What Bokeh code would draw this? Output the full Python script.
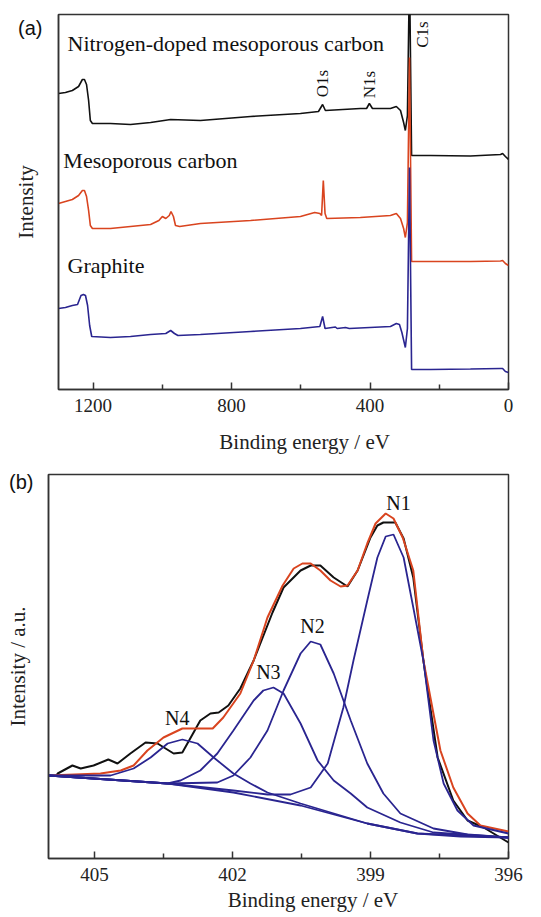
from bokeh.plotting import figure
from bokeh.models import Range1d, FixedTicker, LinearAxis
from bokeh.embed import file_html
from bokeh.resources import INLINE
from bokeh.core.properties import value

# ---------------- Panel (a): XPS survey spectra ----------------
survey_black_e = [1300, 1280, 1260, 1242, 1231, 1225, 1219, 1213, 1208, 1202, 1150, 1092, 1034, 976, 890, 745, 601,
                  549, 537, 529, 428, 410, 402, 393, 341, 324, 312, 303, 298, 292, 286, 280, 225, 110, 23, 17, 9, 0]
survey_black_y = [296, 297, 299, 303, 310, 310, 305, 289, 269, 266, 266, 265, 267, 270, 269, 273, 276,
                  278, 285, 279, 281, 281, 286, 281, 281, 283, 279, 267, 259, 274, 420, 234, 234, 233.5, 235, 236, 233, 230]

survey_red_e = [1300, 1280, 1260, 1242, 1231, 1225, 1219, 1213, 1208, 1202, 1150, 1092, 1034, 1010, 1000, 990, 980,
                975, 968, 962, 950, 890, 745, 601, 560, 545, 540, 535, 530, 525, 428, 341, 324, 312, 303, 298, 292,
                286, 280, 225, 110, 23, 17, 9, 0]
survey_red_y = [186, 188, 190, 194, 199, 199, 193, 179, 164, 161, 161, 163, 165, 169, 173, 171, 174,
                178, 173, 164, 163, 166, 169, 173, 177, 176, 174, 209, 176, 171, 172, 174, 176, 171, 161, 152, 167,
                332, 128, 128, 128, 128.5, 129, 126, 124]

survey_blue_e = [1300, 1280, 1260, 1245, 1235, 1228, 1222, 1216, 1210, 1204, 1150, 1092, 1034, 990, 976, 965, 955,
                 890, 745, 601, 545, 537, 530, 500, 495, 471, 460, 341, 324, 315, 308, 298, 292, 286, 280, 225, 110,
                 23, 17, 9, 0]
survey_blue_y = [81, 82, 84, 85, 94, 95, 94, 84, 64, 53, 52, 53, 55, 56, 59, 56, 54,
                 55, 58, 61, 63, 73, 61, 62.5, 61, 62, 61, 63, 66, 65, 57, 42, 61, 222, 20, 20, 20.5,
                 21, 21, 18, 17]

survey_ticks = [1200, 800, 400, 0]
survey_minor = [1000, 600, 200]
sample_names = ["Nitrogen-doped mesoporous carbon", "Mesoporous carbon", "Graphite"]
sample_x = [1274, 1286, 1274]
sample_y = [346, 229, 124]
peak_names = ["O1s", "N1s", "C1s"]
peak_x = [537, 401, 248]
peak_y = [306, 305, 355]
panel_a_tag_y = 362
panel_a_xlabel_at = 589

# ---------------- Panel (b): N1s high resolution ----------------
n_exp_e = [405.85, 405.80, 405.48, 405.30, 405.02, 404.70, 404.50, 404.22, 403.89, 403.63, 403.28, 403.09,
           402.70, 402.48, 402.30, 402.09, 401.83, 401.54, 401.13, 400.89, 400.52, 400.30, 400.09, 399.80,
           399.50, 399.28, 399.00, 398.85, 398.72, 398.46, 398.28, 398.07, 397.85, 397.54, 397.20, 396.89,
           396.54, 396.00]
n_exp_y = [82, 85, 93, 90, 93, 99, 95, 105, 116, 115, 105, 106,
           138, 145, 146, 153, 170, 198, 246, 271, 288, 293, 293, 281,
           272, 288, 321, 333, 336, 336, 320, 281, 198, 101, 58, 38,
           31, 16]

n_fit_e = [406.00, 404.87, 404.43, 404.15, 403.85, 403.50, 403.09, 402.76, 402.43, 402.20, 401.83, 401.54,
           401.24, 400.91, 400.67, 400.48, 400.30, 400.09, 399.87, 399.65, 399.50, 399.28, 399.07, 398.89,
           398.67, 398.50, 398.30, 398.07, 397.85, 397.48, 397.20, 396.89, 396.61, 396.00]
n_fit_y = [83, 85, 88, 93, 108, 121, 130, 130, 130, 141, 165, 198,
           241, 273, 290, 295, 295, 288, 278, 272, 273, 288, 315, 335,
           345, 340, 321, 288, 198, 108, 71, 45, 33, 27]

bg_e = [406.00, 403.41, 401.98, 400.52, 399.07, 397.98, 397.04, 396.00]
bg_y = [83, 75, 66, 53, 35, 25, 22, 21]

n1_e = [406.00, 403.41, 401.98, 401.24, 400.74, 400.30, 399.93, 399.59, 399.37, 399.07, 398.85, 398.67,
        398.50, 398.28, 398.07, 397.85, 397.63, 397.41, 397.11, 396.76, 396.00]
n1_y = [83, 75, 68, 64, 64, 71, 95, 151, 198, 258, 301, 322,
        324, 301, 251, 198, 118, 75, 48, 33, 25]

n2_e = [406.00, 403.41, 402.33, 401.98, 401.61, 401.24, 400.89, 400.52, 400.30, 400.09, 399.80, 399.43,
        399.07, 398.72, 398.35, 397.63, 396.89, 396.00]
n2_y = [83, 75, 76, 83, 101, 128, 168, 205, 217, 214, 185, 138,
        95, 65, 45, 30, 24, 21]

n3_e = [406.00, 403.41, 403.13, 402.70, 402.33, 401.98, 401.54, 401.33, 401.11, 400.89, 400.52, 400.15,
        399.80, 399.43, 399.07, 398.35, 397.63, 396.00]
n3_y = [83, 75, 78, 88, 105, 128, 158, 168, 171, 165, 135, 98,
        78, 65, 51, 36, 26, 21]

n4_e = [406.00, 404.65, 404.15, 403.78, 403.41, 403.09, 402.76, 402.41, 401.98, 401.61, 401.24, 400.52,
        399.07, 397.98, 396.00]
n4_y = [83, 83, 90, 101, 115, 119, 115, 101, 85, 75, 66, 55,
        35, 25, 21]

n_ticks = [405, 402, 399, 396]
n_minor = [403.5, 400.5, 397.5]
comp_names = ["N1", "N2", "N3", "N4"]
comp_x = [398.39, 400.26, 401.22, 403.20]
comp_y = [356, 233, 187, 141]
panel_b_tag_y = 377
panel_b_xlabel_at = 400.25

XLABEL = "Binding energy / eV"
BLACK = "#111111"
RED = "#d9441f"
BLUE = "#2a2590"
SERIF = "Liberation Serif"
SANS = "Liberation Sans"


def style(p, ticks, minor, ylabel, tag, tag_y, tag_standoff, ylabel_standoff, xlabel_at, xlabel_standoff):
    ax = p.xaxis[0]
    ax.ticker = FixedTicker(ticks=ticks, minor_ticks=minor)
    ax.major_tick_in = 7
    ax.major_tick_out = 0
    ax.minor_tick_in = 5
    ax.minor_tick_out = 0
    ax.major_tick_line_color = "#333333"
    ax.minor_tick_line_color = "#333333"
    ax.major_tick_line_width = 1.5
    ax.minor_tick_line_width = 1.5
    ax.axis_line_color = "#333333"
    ax.axis_line_width = 1.5
    ax.major_label_text_font = SERIF
    ax.major_label_text_font_size = "19px"
    ax.major_label_text_color = "#222222"
    ax.major_label_standoff = 9
    # x title: carried by a second, line-less axis so it can sit where the original puts it
    lab = LinearAxis(ticker=FixedTicker(ticks=[xlabel_at]),
                     major_label_overrides={xlabel_at: XLABEL},
                     axis_line_color=None, major_tick_line_color=None, minor_tick_line_color=None,
                     major_tick_in=0, major_tick_out=0, minor_tick_in=0, minor_tick_out=0,
                     major_label_text_font=SERIF, major_label_text_font_size="21px",
                     major_label_text_color="#222222", major_label_standoff=xlabel_standoff)
    p.add_layout(lab, "below")
    # left axis: no ticks; the panel tag "(a)"/"(b)" is carried as its only tick label
    p.yaxis.ticker = FixedTicker(ticks=[tag_y])
    p.yaxis.major_label_overrides = {tag_y: tag}
    p.yaxis.major_label_text_font = SANS
    p.yaxis.major_label_text_font_size = "20px"
    p.yaxis.major_label_text_color = "#111111"
    p.yaxis.major_label_standoff = tag_standoff
    p.yaxis.major_tick_in = 0
    p.yaxis.major_tick_out = 0
    p.yaxis.minor_tick_in = 0
    p.yaxis.minor_tick_out = 0
    p.yaxis.axis_line_color = "#333333"
    p.yaxis.axis_line_width = 1.5
    p.yaxis.axis_label = ylabel
    p.yaxis.axis_label_text_font = SERIF
    p.yaxis.axis_label_text_font_size = "21px"
    p.yaxis.axis_label_text_font_style = "normal"
    p.yaxis.axis_label_text_color = "#222222"
    p.yaxis.axis_label_standoff = ylabel_standoff
    p.xgrid.visible = False
    p.ygrid.visible = False
    p.outline_line_color = "#333333"
    p.outline_line_width = 1.5
    p.background_fill_color = "white"
    p.border_fill_color = "white"


# ---------- figure (a) ----------
pa = figure(width=541, height=459, output_backend="svg", toolbar_location=None,
            x_range=Range1d(1300, 0), y_range=Range1d(0, 375),
            min_border_left=58, min_border_right=33, min_border_top=14, min_border_bottom=70)
style(pa, survey_ticks, survey_minor, "Intensity", "(a)", panel_a_tag_y, 16, -23, panel_a_xlabel_at, 15)

pa.line(survey_black_e, survey_black_y, line_color=BLACK, line_width=1.6)
pa.line(survey_red_e, survey_red_y, line_color=RED, line_width=1.6)
pa.line(survey_blue_e, survey_blue_y, line_color=BLUE, line_width=1.6)

pa.text(x=sample_x, y=sample_y, text=sample_names, text_font=value(SERIF),
        text_font_size=value("22px"), text_color="#111111", text_align="left", text_baseline="middle")
pa.text(x=peak_x, y=peak_y, text=peak_names, text_font=value(SERIF),
        text_font_size=value("17px"), text_color="#111111", text_align="center", text_baseline="middle",
        angle=1.5708)

# ---------- figure (b) ----------
pb = figure(width=541, height=458, output_backend="svg", toolbar_location=None,
            x_range=Range1d(406, 396), y_range=Range1d(0, 384),
            min_border_left=48, min_border_right=33, min_border_top=15, min_border_bottom=59)
style(pb, n_ticks, n_minor, "Intensity / a.u.", "(b)", panel_b_tag_y, 15, -24, panel_b_xlabel_at, 4)

pb.line(n_exp_e, n_exp_y, line_color=BLACK, line_width=2)
pb.line(n_fit_e, n_fit_y, line_color=RED, line_width=2)
pb.line(bg_e, bg_y, line_color=BLUE, line_width=1.8)
pb.line(n4_e, n4_y, line_color=BLUE, line_width=1.8)
pb.line(n3_e, n3_y, line_color=BLUE, line_width=1.8)
pb.line(n2_e, n2_y, line_color=BLUE, line_width=1.8)
pb.line(n1_e, n1_y, line_color=BLUE, line_width=1.8)

pb.text(x=comp_x, y=comp_y, text=comp_names, text_font=value(SERIF),
        text_font_size=value("20px"), text_color="#111111", text_align="center", text_baseline="middle")

# two independent roots stacked vertically (keeps each panel's own frame offsets)
p = [pa, pb]
open("out.html", "w").write(file_html(p, INLINE))
